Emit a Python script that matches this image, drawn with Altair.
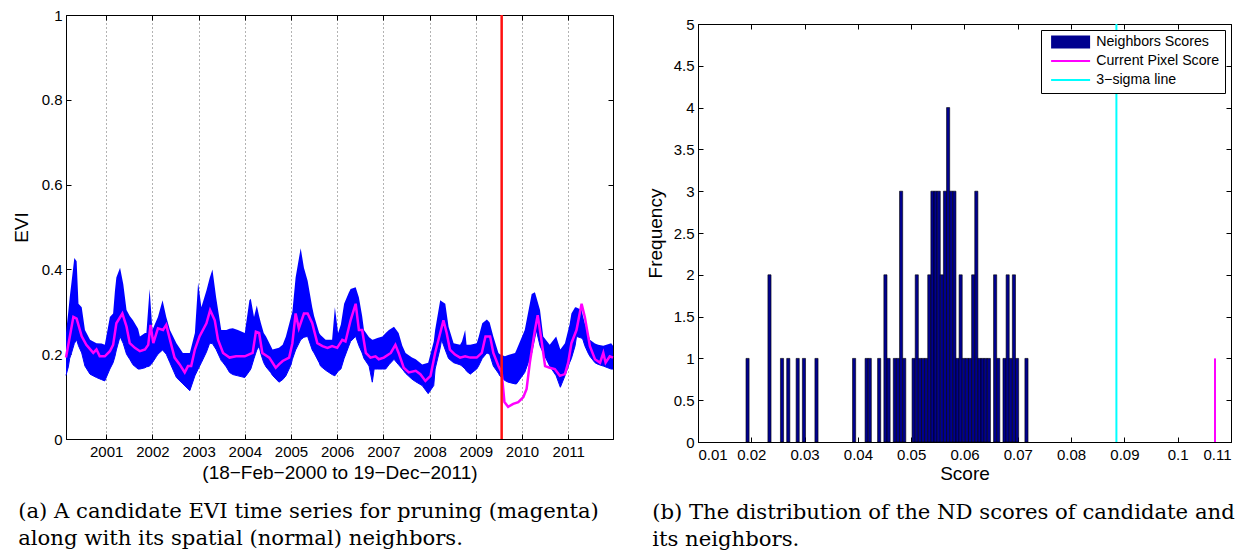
import altair as alt
import pandas as pd

# ---------------- Panel (a): EVI time series ----------------
BAND_T = [2000.13, 2000.18, 2000.21, 2000.25, 2000.31, 2000.36, 2000.40, 2000.47, 2000.54, 2000.65,
          2000.79, 2000.90, 2000.97, 2001.08, 2001.15, 2001.19, 2001.22, 2001.30, 2001.37, 2001.44,
          2001.51, 2001.58, 2001.69, 2001.73, 2001.84, 2001.87, 2001.94, 2002.00, 2002.09, 2002.12,
          2002.22, 2002.30, 2002.38, 2002.52, 2002.66, 2002.81, 2002.92, 2002.99, 2003.06, 2003.17,
          2003.24, 2003.30, 2003.38, 2003.49, 2003.53, 2003.60, 2003.67, 2003.74, 2003.85, 2004.00,
          2004.10, 2004.13, 2004.20, 2004.26, 2004.31, 2004.35, 2004.41, 2004.46, 2004.56, 2004.60,
          2004.74, 2004.82, 2004.89, 2005.00, 2005.03, 2005.10, 2005.21, 2005.28, 2005.36, 2005.46,
          2005.50, 2005.61, 2005.64, 2005.75, 2005.82, 2005.89, 2005.95, 2006.02, 2006.08, 2006.15,
          2006.25, 2006.29, 2006.40, 2006.47, 2006.54, 2006.58, 2006.69, 2006.76, 2006.80, 2006.87,
          2006.98, 2007.05, 2007.12, 2007.23, 2007.33, 2007.41, 2007.48, 2007.62, 2007.70, 2007.84,
          2007.97, 2008.09, 2008.12, 2008.23, 2008.26, 2008.34, 2008.41, 2008.52, 2008.66, 2008.70,
          2008.77, 2008.80, 2008.88, 2009.02, 2009.06, 2009.14, 2009.24, 2009.30, 2009.38, 2009.49,
          2009.52, 2009.63, 2009.70, 2009.85, 2009.88, 2010.06, 2010.21, 2010.28, 2010.31, 2010.39,
          2010.46, 2010.60, 2010.74, 2010.83, 2010.93, 2011.03, 2011.07, 2011.15, 2011.18, 2011.29,
          2011.32, 2011.36, 2011.43, 2011.47, 2011.58, 2011.65, 2011.76, 2011.93, 2011.97]
BAND_UP = [0.25, 0.30, 0.334, 0.37, 0.427, 0.419, 0.319, 0.311, 0.257, 0.234,
           0.226, 0.225, 0.222, 0.288, 0.296, 0.35, 0.381, 0.404, 0.365, 0.304,
           0.29, 0.28, 0.26, 0.242, 0.25, 0.25, 0.354, 0.257, 0.28, 0.288,
           0.327, 0.288, 0.257, 0.226, 0.203, 0.203, 0.25, 0.369, 0.311, 0.35,
           0.38, 0.40, 0.334, 0.257, 0.257, 0.257, 0.26, 0.261, 0.257, 0.25,
           0.327, 0.331, 0.288, 0.315, 0.29, 0.273, 0.25, 0.242, 0.22, 0.211,
           0.215, 0.222, 0.242, 0.288, 0.30, 0.381, 0.45, 0.404, 0.373, 0.311,
           0.29, 0.25, 0.245, 0.234, 0.234, 0.234, 0.311, 0.25, 0.27, 0.319,
           0.345, 0.354, 0.358, 0.334, 0.29, 0.257, 0.24, 0.234, 0.235, 0.238,
           0.242, 0.25, 0.257, 0.265, 0.25, 0.22, 0.203, 0.192, 0.188, 0.176,
           0.18, 0.23, 0.257, 0.327, 0.325, 0.319, 0.265, 0.226, 0.222, 0.23,
           0.257, 0.222, 0.222, 0.226, 0.24, 0.273, 0.282, 0.275, 0.242, 0.203,
           0.20, 0.195, 0.198, 0.203, 0.21, 0.257, 0.342, 0.346, 0.335, 0.304,
           0.242, 0.222, 0.242, 0.211, 0.226, 0.27, 0.296, 0.311, 0.31, 0.304,
           0.29, 0.273, 0.25, 0.234, 0.225, 0.222, 0.22, 0.226, 0.22]
BAND_LO = [0.15, 0.17, 0.19, 0.203, 0.225, 0.234, 0.22, 0.203, 0.172, 0.153,
           0.145, 0.14, 0.137, 0.165, 0.18, 0.195, 0.21, 0.242, 0.225, 0.20,
           0.188, 0.175, 0.165, 0.165, 0.168, 0.17, 0.172, 0.18, 0.195, 0.20,
           0.21, 0.20, 0.18, 0.145, 0.13, 0.114, 0.149, 0.165, 0.18, 0.205,
           0.226, 0.225, 0.211, 0.185, 0.18, 0.17, 0.157, 0.152, 0.149, 0.145,
           0.16, 0.165, 0.19, 0.21, 0.219, 0.20, 0.18, 0.17, 0.157, 0.15,
           0.134, 0.14, 0.149, 0.175, 0.188, 0.21, 0.234, 0.24, 0.242, 0.21,
           0.203, 0.18, 0.172, 0.162, 0.157, 0.152, 0.149, 0.16, 0.165, 0.19,
           0.219, 0.23, 0.242, 0.22, 0.203, 0.19, 0.172, 0.134, 0.165, 0.165,
           0.165, 0.165, 0.175, 0.188, 0.175, 0.165, 0.155, 0.141, 0.135, 0.126,
           0.107, 0.126, 0.165, 0.215, 0.234, 0.21, 0.19, 0.18, 0.175, 0.172,
           0.165, 0.16, 0.153, 0.165, 0.172, 0.19, 0.203, 0.20, 0.172, 0.155,
           0.149, 0.138, 0.134, 0.13, 0.13, 0.157, 0.203, 0.24, 0.257, 0.22,
           0.203, 0.172, 0.149, 0.122, 0.149, 0.18, 0.19, 0.22, 0.242, 0.238,
           0.234, 0.22, 0.203, 0.195, 0.18, 0.176, 0.172, 0.165, 0.165]

PIX_T = [2000.13, 2000.29, 2000.36, 2000.47, 2000.57, 2000.72, 2000.79, 2000.86, 2000.97, 2001.08,
         2001.15, 2001.22, 2001.35, 2001.44, 2001.51, 2001.62, 2001.73, 2001.84, 2001.91, 2001.96,
         2002.02, 2002.12, 2002.23, 2002.30, 2002.38, 2002.48, 2002.59, 2002.70, 2002.77, 2002.84,
         2002.92, 2003.02, 2003.17, 2003.25, 2003.35, 2003.42, 2003.53, 2003.67, 2003.81, 2004.00,
         2004.17, 2004.24, 2004.31, 2004.38, 2004.53, 2004.67, 2004.74, 2004.82, 2004.96, 2005.03,
         2005.10, 2005.17, 2005.28, 2005.36, 2005.46, 2005.57, 2005.68, 2005.79, 2005.89, 2006.00,
         2006.11, 2006.18, 2006.29, 2006.40, 2006.47, 2006.54, 2006.62, 2006.72, 2006.83, 2006.90,
         2007.01, 2007.16, 2007.26, 2007.33, 2007.44, 2007.55, 2007.70, 2007.80, 2007.91, 2008.02,
         2008.12, 2008.23, 2008.30, 2008.37, 2008.44, 2008.55, 2008.66, 2008.77, 2008.88, 2009.02,
         2009.13, 2009.21, 2009.31, 2009.38, 2009.49, 2009.56, 2009.62, 2009.70, 2009.81, 2009.92,
         2010.03, 2010.10, 2010.17, 2010.28, 2010.34, 2010.42, 2010.50, 2010.60, 2010.71, 2010.82,
         2010.93, 2011.00, 2011.07, 2011.18, 2011.29, 2011.36, 2011.47, 2011.58, 2011.69, 2011.76,
         2011.81, 2011.90, 2011.97]
PIX_V = [0.192, 0.288, 0.284, 0.242, 0.222, 0.203, 0.211, 0.195, 0.195, 0.207,
         0.222, 0.273, 0.296, 0.265, 0.226, 0.215, 0.207, 0.211, 0.222, 0.269,
         0.226, 0.261, 0.257, 0.269, 0.234, 0.192, 0.176, 0.157, 0.172, 0.172,
         0.211, 0.242, 0.273, 0.304, 0.28, 0.234, 0.203, 0.192, 0.195, 0.195,
         0.203, 0.253, 0.25, 0.203, 0.192, 0.168, 0.176, 0.184, 0.192, 0.226,
         0.296, 0.261, 0.296, 0.296, 0.273, 0.226, 0.219, 0.215, 0.219, 0.215,
         0.234, 0.23, 0.28, 0.319, 0.257, 0.257, 0.203, 0.192, 0.195, 0.188,
         0.192, 0.203, 0.222, 0.203, 0.168, 0.157, 0.161, 0.153, 0.137, 0.149,
         0.203, 0.25, 0.28, 0.25, 0.211, 0.199, 0.192, 0.195, 0.192, 0.192,
         0.203, 0.242, 0.242, 0.203, 0.172, 0.157, 0.087, 0.076, 0.083, 0.087,
         0.099, 0.118, 0.18, 0.257, 0.292, 0.234, 0.172, 0.168, 0.165, 0.149,
         0.153, 0.18, 0.226, 0.257, 0.319, 0.288, 0.219, 0.188, 0.18, 0.203,
         0.18, 0.195, 0.192]

CHANGE_T = 2009.56
T_DOMAIN = [2000.13, 2011.97]
YEAR_TICKS = list(range(2001, 2012))
EVI_TICKS = [0, 0.2, 0.4, 0.6, 0.8, 1]

# ---------------- Panel (b): histogram of ND scores ----------------
BIN_START = 0.0190
BIN_WIDTH = 0.000588
BIN_IDX = [0, 7, 11, 13, 16, 18, 22, 34, 38, 39, 42, 44, 45, 47, 48, 49, 50, 53, 54, 55,
           56, 57, 58, 59, 60, 61, 62, 63, 64, 65, 66, 67, 68, 69, 70, 71, 72, 73, 74, 75,
           76, 77, 79, 80, 82, 83, 84, 85, 86, 89]
BIN_COUNT = [1, 2, 1, 1, 1, 1, 1, 1, 1, 1, 1, 2, 1, 1, 1, 3, 1, 1, 2, 1,
             1, 1, 2, 3, 3, 3, 2, 3, 4, 3, 3, 1, 2, 1, 1, 1, 2, 3, 1, 1,
             1, 1, 2, 1, 1, 2, 1, 2, 1, 1]
PIXEL_SCORE = 0.107
SIGMA3 = 0.0885
SCORE_DOMAIN = [0.01, 0.11]
SCORE_TICKS = [0.01, 0.02, 0.03, 0.04, 0.05, 0.06, 0.07, 0.08, 0.09, 0.1, 0.11]
FREQ_TICKS = [0, 0.5, 1, 1.5, 2, 2.5, 3, 3.5, 4, 4.5, 5]
LEGEND_NAMES = ["Neighbors Scores", "Current Pixel Score", "3\u2212sigma line"]
LEGEND_COLORS = ["#00008f", "#ff00ff", "#00ffff"]

CAPTION_A = ["(a) A candidate EVI time series for pruning (magenta)",
             "along with its spatial (normal) neighbors."]
CAPTION_B = ["(b) The distribution of the ND scores of candidate and",
             "its neighbors."]

# ---------------- styling ----------------
FONT = "Liberation Sans"
SERIF = "DejaVu Serif"
W_L, H_L = 547, 424
W_R, H_R = 533, 418


def main_axis(values, title, fmt, **kw):
    return alt.Axis(values=values, format=fmt, title=title, ticks=False,
                    domain=True, domainColor="black", domainWidth=1, grid=kw.pop("grid", False),
                    labelFont=FONT, labelFontSize=15, labelColor="black",
                    titleFont=FONT, titleFontSize=19, titleFontWeight="normal",
                    titleColor="black", **kw)


def in_axis(orient, offset, values):
    return alt.Axis(orient=orient, offset=offset, values=values, labels=False,
                    ticks=True, tickSize=5, tickColor="black", tickWidth=1,
                    domain=True, domainColor="black", domainWidth=1,
                    grid=False, title=None)


def caption(lines):
    return alt.TitleParams(text=lines, orient="bottom", anchor="start", font=SERIF,
                           fontSize=21.2, fontWeight="normal", color="black",
                           lineHeight=27, offset=19, dx=6)


# ----- left panel -----
band_df = pd.DataFrame({"t": BAND_T, "up": BAND_UP, "lo": BAND_LO})
pix_df = pd.DataFrame({"t": PIX_T, "v": PIX_V})
chg_df = pd.DataFrame({"t": [CHANGE_T]})

xs = alt.Scale(domain=T_DOMAIN, nice=False, zero=False)
ys = alt.Scale(domain=[0, 1], nice=False)

band = alt.Chart(band_df).mark_area(color="#0000ff", opacity=1).encode(
    x=alt.X("t:Q", scale=xs,
            axis=main_axis(YEAR_TICKS, "(18\u2212Feb\u22122000 to 19\u2212Dec\u22122011)", "d",
                           grid=True, gridDash=[1, 3], gridColor="#666", gridWidth=1,
                           labelPadding=5, titlePadding=4)),
    y=alt.Y("up:Q", scale=ys,
            axis=main_axis(EVI_TICKS, "EVI", "~g", labelPadding=4, titlePadding=10)),
    y2="lo:Q",
)
band_edge = alt.Chart(band_df).mark_line(color="#0000ff", strokeWidth=1).encode(
    x=alt.X("t:Q", scale=xs, axis=in_axis("bottom", -H_L, YEAR_TICKS)),
    y=alt.Y("lo:Q", scale=ys, axis=in_axis("left", -W_L, EVI_TICKS)),
)
pix_line = alt.Chart(pix_df).mark_line(color="#ff00ff", strokeWidth=2.5).encode(
    x=alt.X("t:Q", scale=xs, axis=in_axis("top", -H_L, YEAR_TICKS)),
    y=alt.Y("v:Q", scale=ys, axis=in_axis("right", -W_L, EVI_TICKS)),
)
chg_rule = alt.Chart(chg_df).mark_rule(color="#ff1010", strokeWidth=2.5).encode(
    x=alt.X("t:Q", scale=xs, axis=None),
)
left = alt.layer(band, band_edge, pix_line, chg_rule).resolve_axis(
    x="independent", y="independent"
).properties(width=W_L, height=H_L, title=caption(CAPTION_A))

# ----- right panel -----
hist_df = pd.DataFrame({"k": BIN_IDX, "n": BIN_COUNT})
hist_df["x0"] = BIN_START + hist_df["k"] * BIN_WIDTH
hist_df["x1"] = hist_df["x0"] + BIN_WIDTH
hist_df["base"] = 0
pix_df2 = pd.DataFrame({"s": [PIXEL_SCORE], "y0": [0], "y1": [1]})
sig_df = pd.DataFrame({"s": [SIGMA3]})
leg_df = pd.DataFrame({"name": LEGEND_NAMES, "s": [0.2, 0.2, 0.2], "y": [2.5, 2.5, 2.5]})

xs2 = alt.Scale(domain=SCORE_DOMAIN, nice=False, zero=False)
ys2 = alt.Scale(domain=[0, 5], nice=False)

bars = alt.Chart(hist_df).mark_bar(color="#00008f", stroke="black", strokeWidth=0.6).encode(
    x=alt.X("x0:Q", scale=xs2,
            axis=main_axis(SCORE_TICKS, "Score", "~g", labelPadding=5, titlePadding=2)),
    x2="x1:Q",
    y=alt.Y("n:Q", scale=ys2,
            axis=main_axis(FREQ_TICKS, "Frequency", "~g", labelPadding=4, titlePadding=8)),
    y2="base:Q",
)
sig_rule = alt.Chart(sig_df).mark_rule(color="#00ffff", strokeWidth=2).encode(
    x=alt.X("s:Q", scale=xs2, axis=in_axis("top", -H_R, SCORE_TICKS)),
)
pix_rule = alt.Chart(pix_df2).mark_rule(color="#ff00ff", strokeWidth=2).encode(
    x=alt.X("s:Q", scale=xs2, axis=in_axis("bottom", -H_R, SCORE_TICKS)),
    y=alt.Y("y0:Q", scale=ys2, axis=in_axis("right", -W_R, FREQ_TICKS)),
    y2="y1:Q",
)
# legend glyphs: a filled box for the bars, thin strips for the two lines
shapes = ["M-0.4,-1.3H7.4V1.3H-0.4Z", "M-0.4,-0.2H7.4V0.2H-0.4Z", "M-0.4,-0.2H7.4V0.2H-0.4Z"]
leg_params = dict(title=None, orient="top-right", offset=6, fillColor="white",
                  strokeColor="black", padding=5, labelFont=FONT, labelFontSize=14.2,
                  labelColor="black", symbolSize=100, symbolStrokeWidth=0,
                  labelOffset=36, rowPadding=4)
legend_pts = alt.Chart(leg_df).mark_point(filled=True, clip=True, opacity=1).encode(
    x=alt.X("s:Q", scale=xs2, axis=None),
    y=alt.Y("y:Q", scale=ys2, axis=in_axis("left", -W_R, FREQ_TICKS)),
    color=alt.Color("name:N", scale=alt.Scale(domain=LEGEND_NAMES, range=LEGEND_COLORS),
                    legend=alt.Legend(**leg_params)),
    shape=alt.Shape("name:N", scale=alt.Scale(domain=LEGEND_NAMES, range=shapes),
                    legend=alt.Legend(**leg_params)),
)
right = alt.layer(bars, sig_rule, pix_rule, legend_pts).resolve_axis(
    x="independent", y="independent"
).properties(width=W_R, height=H_R, title=caption(CAPTION_B))

spacer = alt.Chart(pd.DataFrame({"a": [0]})).mark_point(opacity=0, size=0).encode(
    x=alt.value(0), y=alt.value(0)
).properties(width=W_R, height=1, view=alt.ViewBackground(stroke=None))

right_col = alt.vconcat(spacer, right, spacing=0).resolve_legend(
    color="independent", shape="independent")

chart = alt.hconcat(left, right_col, spacing=26).resolve_legend(
    color="independent", shape="independent"
).properties(
    padding={"left": 3, "top": -1, "right": 0, "bottom": 0}
).configure_view(stroke=None).configure(background="white")

chart.save("out.html", embed_options={"renderer": "svg", "actions": False})
